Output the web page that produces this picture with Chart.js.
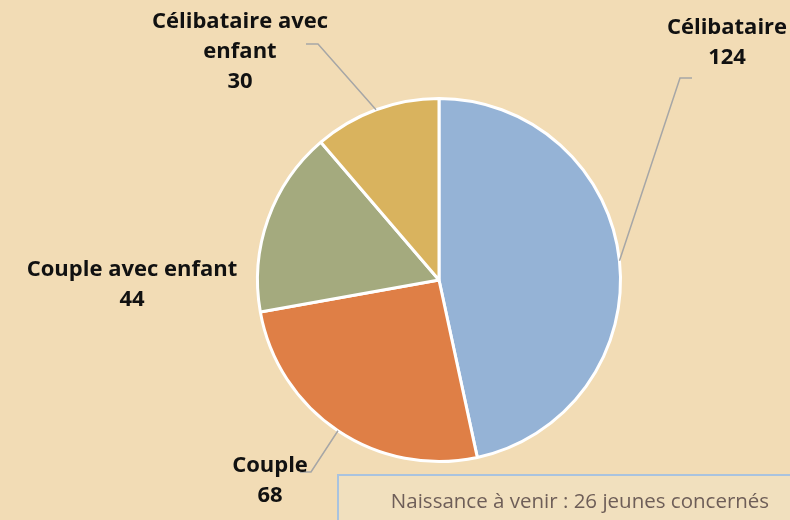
<!DOCTYPE html>
<html>
<head>
<meta charset="utf-8">
<script src="https://cdn.jsdelivr.net/npm/chart.js@4.4.0/dist/chart.umd.min.js"></script>
<style>
  html, body { margin: 0; padding: 0; background: #f2dcb5; }
  #wrap { width: 790px; height: 520px; position: relative; }
</style>
</head>
<body>
<div id="wrap"><canvas id="pieChart" width="790" height="520"></canvas></div>
<script>
var categories = ['Célibataire', 'Couple', 'Couple avec enfant', 'Célibataire avec enfant'];
var values = [124, 68, 44, 30];
var colors = ['#95b3d6', '#df7f46', '#a4aa7e', '#d9b35e'];
var noteText = 'Naissance à venir : 26 jeunes concernés';

// where each label sits, and the bend of its leader line (null = no line)
var labelSpots = [
    { lines: ['Célibataire', '124'], x: 727, y: 28, bend: [680, 78], end: [692, 78] },
    { lines: ['Couple', '68'], x: 270, y: 466, bend: [311, 472], end: [300, 472] },
    { lines: ['Couple avec enfant', '44'], x: 132, y: 270, bend: null },
    { lines: ['Célibataire avec', 'enfant', '30'], x: 240, y: 22, bend: [318, 44], end: [306, 44] }
];

var pieLabels = {
    id: 'pieLabels',
    afterDatasetsDraw: function (chart) {
        var ctx = chart.ctx;
        var arcs = chart.getDatasetMeta(0).data;
        ctx.save();
        arcs.forEach(function (arc, i) {
            var spot = labelSpots[i];
            if (spot.bend) {
                var mid = (arc.startAngle + arc.endAngle) / 2;
                var px = arc.x + Math.cos(mid) * arc.outerRadius;
                var py = arc.y + Math.sin(mid) * arc.outerRadius;
                ctx.strokeStyle = '#a6a6a6';
                ctx.lineWidth = 1.5;
                ctx.beginPath();
                ctx.moveTo(px, py);
                ctx.lineTo(spot.bend[0], spot.bend[1]);
                ctx.lineTo(spot.end[0], spot.end[1]);
                ctx.stroke();
            }
            ctx.fillStyle = '#111';
            ctx.font = 'bold 22px "Open Sans"';
            ctx.textAlign = 'center';
            ctx.textBaseline = 'middle';
            spot.lines.forEach(function (t, k) {
                ctx.fillText(t, spot.x, spot.y + k * 30);
            });
        });

        // note box
        ctx.fillStyle = '#f1e0be';
        ctx.fillRect(338, 475, 460, 60);
        ctx.strokeStyle = '#a9c3df';
        ctx.lineWidth = 2;
        ctx.strokeRect(338, 475, 460, 60);
        ctx.fillStyle = '#6e5e58';
        ctx.font = '20.5px "Open Sans"';
        ctx.fillText(noteText, 580, 502);
        ctx.restore();
    }
};

var ctx = document.getElementById('pieChart').getContext('2d');
var chart = new Chart(ctx, {
    type: 'pie',
    data: {
        labels: categories,
        datasets: [{
            data: values,
            backgroundColor: colors,
            borderColor: '#ffffff',
            borderWidth: 3
        }]
    },
    options: {
        responsive: false,
        animation: false,
        layout: { padding: { top: 97, bottom: 57, left: 100, right: 12 } },
        plugins: {
            legend: { display: false },
            tooltip: { enabled: false }
        }
    },
    plugins: [pieLabels]
});
</script>
</body>
</html>
